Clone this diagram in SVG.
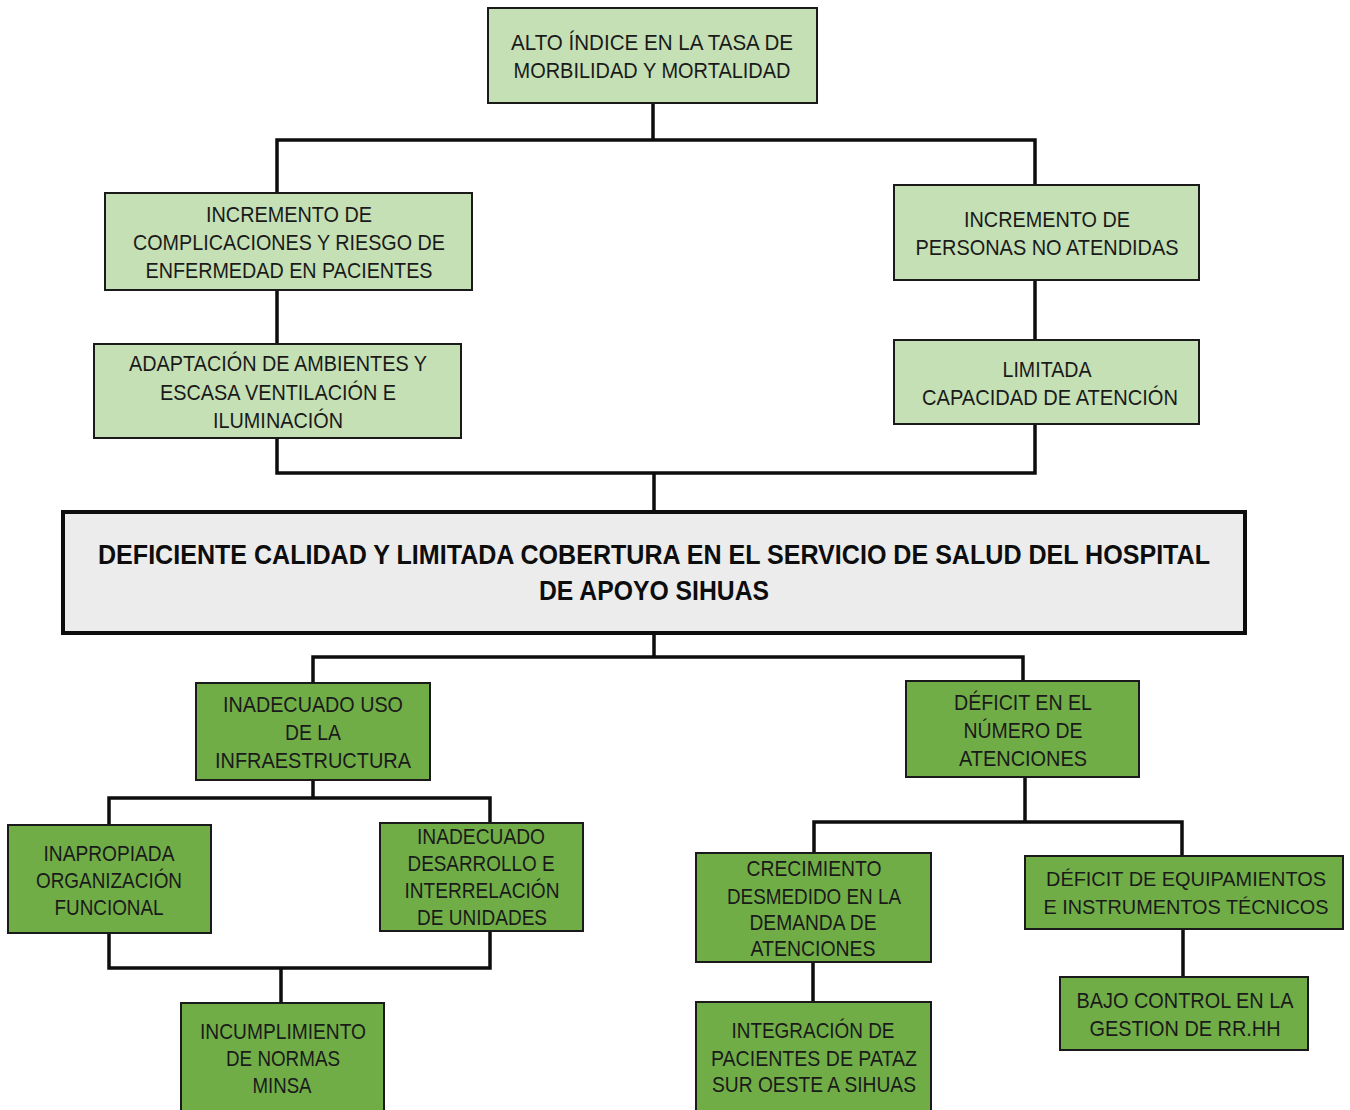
<svg xmlns="http://www.w3.org/2000/svg" width="1350" height="1110" viewBox="0 0 1350 1110">
<style>
.lt{fill:#c5e0b4;stroke:#1a1a1a;stroke-width:2}
.dk{fill:#70ad47;stroke:#1a1a1a;stroke-width:2}
.mn{fill:#ececec;stroke:#0d0d0d;stroke-width:4}
text{font-family:"Liberation Sans",Arial,sans-serif;font-size:22px;fill:#1a1a1a;text-anchor:middle}
.b{font-weight:bold;font-size:27px;fill:#0d0d0d}
.s{font-size:20px}
.c{fill:none;stroke:#0d0d0d;stroke-width:3.5}
</style>
<rect width="1350" height="1110" fill="#fff"/>
<g id="connectors">
<path class="c" d="M653 103V140M277 193V140H1035V185"/>
<path class="c" d="M277 290V344M1035 280V340"/>
<path class="c" d="M277 438V473H1035V424M654 473V512"/>
<path class="c" d="M654 633V657M313 683V657H1023V681"/>
<path class="c" d="M313 780V798M109 825V798H490V823"/>
<path class="c" d="M109 933V968H490V931M281 968V1003"/>
<path class="c" d="M1025 777V822M814 853V822H1182V856"/>
<path class="c" d="M813 962V1002M1183 929V977"/>
</g>
<g id="n1"><rect class="lt" x="488" y="8" width="329" height="95"/><text x="652" y="50" textLength="282" lengthAdjust="spacingAndGlyphs">ALTO ÍNDICE EN LA TASA  DE</text><text x="652" y="78" textLength="277" lengthAdjust="spacingAndGlyphs">MORBILIDAD Y MORTALIDAD</text></g>
<g id="n2"><rect class="lt" x="105" y="193" width="367" height="97"/><text x="289" y="222" textLength="166" lengthAdjust="spacingAndGlyphs">INCREMENTO DE</text><text x="289" y="250" textLength="312" lengthAdjust="spacingAndGlyphs">COMPLICACIONES Y RIESGO DE</text><text x="289" y="278" textLength="287" lengthAdjust="spacingAndGlyphs">ENFERMEDAD EN PACIENTES</text></g>
<g id="n3"><rect class="lt" x="94" y="344" width="367" height="94"/><text x="278" y="371" textLength="298" lengthAdjust="spacingAndGlyphs">ADAPTACIÓN DE AMBIENTES Y</text><text x="278" y="400" textLength="236" lengthAdjust="spacingAndGlyphs">ESCASA VENTILACIÓN E</text><text x="278" y="428" textLength="130" lengthAdjust="spacingAndGlyphs">ILUMINACIÓN</text></g>
<g id="n4"><rect class="lt" x="894" y="185" width="305" height="95"/><text x="1047" y="227" textLength="166" lengthAdjust="spacingAndGlyphs">INCREMENTO DE</text><text x="1047" y="255" textLength="263" lengthAdjust="spacingAndGlyphs">PERSONAS NO ATENDIDAS</text></g>
<g id="n5"><rect class="lt" x="894" y="340" width="305" height="84"/><text x="1047" y="377" textLength="89" lengthAdjust="spacingAndGlyphs">LIMITADA</text><text x="1050" y="405" textLength="256" lengthAdjust="spacingAndGlyphs">CAPACIDAD DE ATENCIÓN</text></g>
<g id="main"><rect class="mn" x="63" y="512" width="1182" height="121"/><text class="b" x="654" y="564" textLength="1112" lengthAdjust="spacingAndGlyphs">DEFICIENTE CALIDAD Y LIMITADA COBERTURA EN EL SERVICIO DE SALUD DEL HOSPITAL</text><text class="b" x="654" y="600" textLength="230" lengthAdjust="spacingAndGlyphs">DE APOYO SIHUAS</text></g>
<g id="n6"><rect class="dk" x="196" y="683" width="234" height="97"/><text x="313" y="712" textLength="180" lengthAdjust="spacingAndGlyphs">INADECUADO USO</text><text x="313" y="740" textLength="56" lengthAdjust="spacingAndGlyphs">DE LA</text><text x="313" y="768" textLength="196" lengthAdjust="spacingAndGlyphs">INFRAESTRUCTURA</text></g>
<g id="n7"><rect class="dk" x="8" y="825" width="203" height="108"/><text x="109" y="861" textLength="131" lengthAdjust="spacingAndGlyphs">INAPROPIADA</text><text x="109" y="888" textLength="146" lengthAdjust="spacingAndGlyphs">ORGANIZACIÓN</text><text x="109" y="915" textLength="109" lengthAdjust="spacingAndGlyphs">FUNCIONAL</text></g>
<g id="n8"><rect class="dk" x="380" y="823" width="203" height="108"/><text x="481" y="844" textLength="128" lengthAdjust="spacingAndGlyphs">INADECUADO</text><text x="481" y="871" textLength="147" lengthAdjust="spacingAndGlyphs">DESARROLLO E</text><text x="482" y="898" textLength="155" lengthAdjust="spacingAndGlyphs">INTERRELACIÓN</text><text x="482" y="925" textLength="130" lengthAdjust="spacingAndGlyphs">DE UNIDADES</text></g>
<g id="n9"><rect class="dk" x="181" y="1003" width="203" height="110"/><text x="283" y="1039" textLength="166" lengthAdjust="spacingAndGlyphs">INCUMPLIMIENTO</text><text x="283" y="1066" textLength="114" lengthAdjust="spacingAndGlyphs">DE NORMAS</text><text x="282" y="1093" textLength="59" lengthAdjust="spacingAndGlyphs">MINSA</text></g>
<g id="n10"><rect class="dk" x="906" y="681" width="233" height="96"/><text x="1023" y="710" textLength="138" lengthAdjust="spacingAndGlyphs">DÉFICIT EN EL</text><text x="1023" y="738" textLength="119" lengthAdjust="spacingAndGlyphs">NÚMERO DE</text><text x="1023" y="766" textLength="128" lengthAdjust="spacingAndGlyphs">ATENCIONES</text></g>
<g id="n11"><rect class="dk" x="696" y="853" width="235" height="109"/><text x="814" y="876" textLength="135" lengthAdjust="spacingAndGlyphs">CRECIMIENTO</text><text x="814" y="904" textLength="174" lengthAdjust="spacingAndGlyphs">DESMEDIDO EN LA</text><text x="813" y="930" textLength="127" lengthAdjust="spacingAndGlyphs">DEMANDA DE</text><text x="813" y="956" textLength="125" lengthAdjust="spacingAndGlyphs">ATENCIONES</text></g>
<g id="n12"><rect class="dk" x="696" y="1002" width="235" height="111"/><text x="813" y="1038" textLength="163" lengthAdjust="spacingAndGlyphs">INTEGRACIÓN DE</text><text x="814" y="1066" textLength="206" lengthAdjust="spacingAndGlyphs">PACIENTES DE PATAZ</text><text x="814" y="1092" textLength="204" lengthAdjust="spacingAndGlyphs">SUR OESTE A SIHUAS</text></g>
<g id="n13"><rect class="dk" x="1025" y="856" width="318" height="73"/><text class="s" x="1186" y="886" textLength="280" lengthAdjust="spacingAndGlyphs">DÉFICIT DE EQUIPAMIENTOS</text><text class="s" x="1186" y="914" textLength="285" lengthAdjust="spacingAndGlyphs">E INSTRUMENTOS TÉCNICOS</text></g>
<g id="n14"><rect class="dk" x="1060" y="977" width="248" height="73"/><text x="1185" y="1008" textLength="217" lengthAdjust="spacingAndGlyphs">BAJO CONTROL EN LA</text><text x="1185" y="1036" textLength="191" lengthAdjust="spacingAndGlyphs">GESTION DE RR.HH</text></g>
</svg>
